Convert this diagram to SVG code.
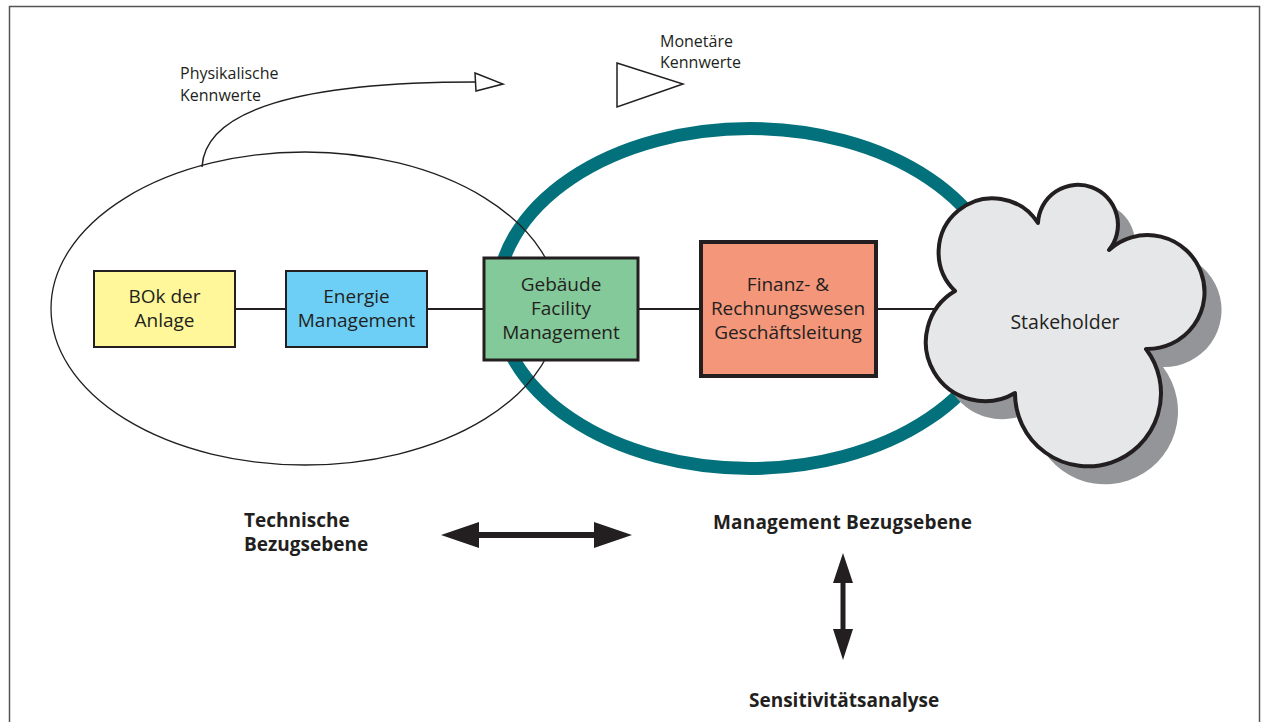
<svg xmlns="http://www.w3.org/2000/svg" width="1263" height="722" viewBox="0 0 1263 722">
<style>
.t{font-family:"Open Sans","Noto Sans","Liberation Sans",sans-serif;fill:#231F20}
.s{font-size:16px}
.b{font-size:19px;text-anchor:middle}
.h{font-size:19px;font-weight:bold}
.box{stroke:#231F20}
.ln{stroke:#231F20;stroke-width:2;fill:none}
</style>
<rect x="9.5" y="6.5" width="1250" height="740" fill="#fff" stroke="#555" stroke-width="1.5"/>
<g id="teal-ellipse"><ellipse cx="750" cy="298.5" rx="253" ry="170" fill="none" stroke="#03717B" stroke-width="13"/></g>
<g id="tech-ellipse"><ellipse cx="305" cy="308.5" rx="254" ry="156.5" fill="none" stroke="#231F20" stroke-width="1.3"/></g>
<g id="connectors">
<line class="ln" x1="235" y1="309" x2="286" y2="309"/>
<line class="ln" x1="427" y1="309" x2="484" y2="309"/>
<line class="ln" x1="638" y1="309" x2="700" y2="309"/>
<line class="ln" x1="877" y1="309" x2="935" y2="309"/>
<path d="M202,167 C205,110 300,82 475,82" fill="none" stroke="#231F20" stroke-width="1.5"/>
<polygon points="475,73 503,84 476,91" fill="#fff" stroke="#231F20" stroke-width="1.5"/>
<polygon points="617,63 683,84 617,107" fill="#fff" stroke="#231F20" stroke-width="1.5"/>
<g fill="#231F20">
<polygon points="441,535 479,522 479,532 594,532 594,522 632,535 594,548 594,538 479,538 479,548"/>
<polygon points="843,553 853,583 845.5,583 845.5,629 853,629 843,660 833,629 840.5,629 840.5,583 833,583"/>
</g>
</g>
<g id="phys-label"><text class="t s" x="180" y="79">Physikalische</text><text class="t s" x="180" y="101">Kennwerte</text></g>
<g id="mon-label"><text class="t s" x="660" y="47">Monetäre</text><text class="t s" x="660" y="68">Kennwerte</text></g>
<g id="bok"><rect class="box" x="94" y="271" width="141" height="76" fill="#FFF799" stroke-width="2"/>
<text class="t b" x="164.5" y="303">BOk der</text><text class="t b" x="164.5" y="327">Anlage</text></g>
<g id="energie"><rect class="box" x="286" y="271" width="141" height="76" fill="#6DCFF6" stroke-width="2"/>
<text class="t b" x="356.5" y="303">Energie</text><text class="t b" x="356.5" y="327">Management</text></g>
<g id="gebaeude"><rect class="box" x="484" y="258" width="154" height="102" fill="#84C99A" stroke-width="3"/>
<text class="t b" x="561" y="291">Gebäude</text><text class="t b" x="561" y="315">Facility</text><text class="t b" x="561" y="339">Management</text></g>
<g id="finanz"><rect class="box" x="701" y="242" width="175" height="134" fill="#F4967A" stroke-width="4"/>
<text class="t b" x="788" y="291">Finanz- &amp;</text><text class="t b" x="788" y="315">Rechnungswesen</text><text class="t b" x="788" y="339">Geschäftsleitung</text></g>
<g id="stakeholder">
<path transform="translate(17,18)" d="M955,291 A59,59 0 1 0 1015,393 A73,73 0 1 0 1146,349 A57,57 0 1 0 1109,250 A40,40 0 1 0 1038,223 A54,54 0 1 0 955,291 Z" fill="#939598"/>
<path d="M955,291 A59,59 0 1 0 1015,393 A73,73 0 1 0 1146,349 A57,57 0 1 0 1109,250 A40,40 0 1 0 1038,223 A54,54 0 1 0 955,291 Z" fill="#E6E7E8" stroke="#231F20" stroke-width="4" stroke-linejoin="round"/>
<text class="t b" x="1065" y="329" style="font-size:19.5px">Stakeholder</text></g>
<g id="tech-label"><text class="t h" x="244" y="527">Technische</text><text class="t h" x="244" y="551">Bezugsebene</text></g>
<g id="mgmt-label"><text class="t h" x="713" y="529" textLength="259">Management Bezugsebene</text></g>
<g id="sens-label"><text class="t h" x="749" y="707">Sensitivitätsanalyse</text></g>
</svg>
